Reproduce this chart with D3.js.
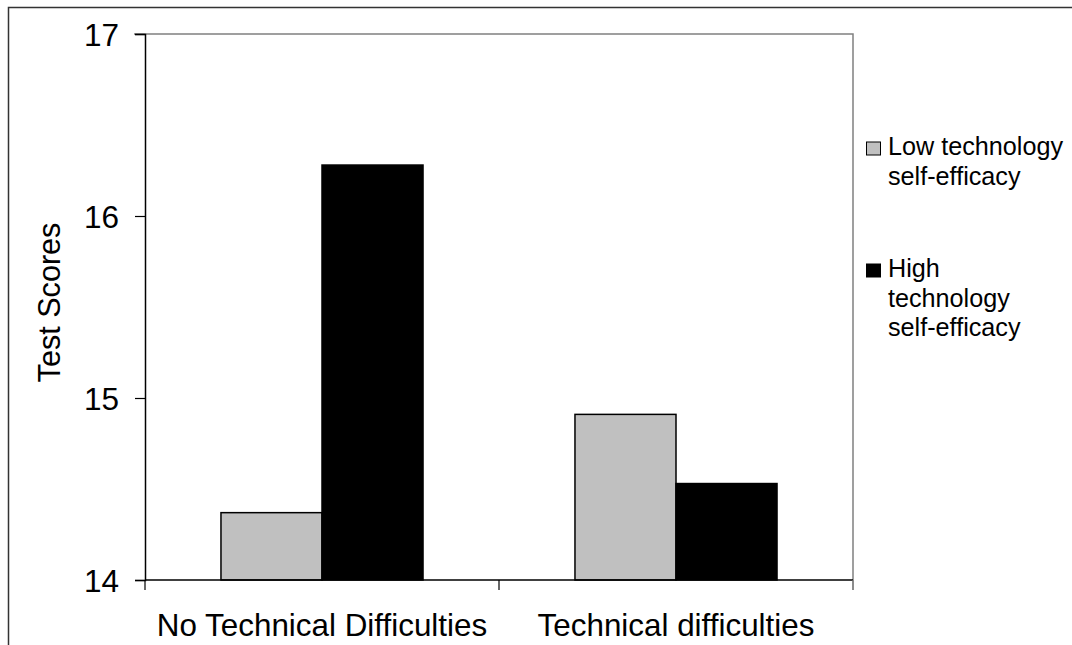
<!DOCTYPE html>
<html><head><meta charset="utf-8">
<script src="https://cdn.jsdelivr.net/npm/d3@7/dist/d3.min.js"></script>
<style>body{margin:0;background:#fff}svg{display:block}text{font-family:"Liberation Sans",Arial,sans-serif;fill:#000}</style>
</head><body><svg id="c" width="1072" height="645"></svg>
<script>
const categories = ["No Technical Difficulties", "Technical difficulties"];
const seriesNames = ["Low technology self-efficacy", "High technology self-efficacy"];
const lowValues = [14.37, 14.91];
const highValues = [16.28, 14.53];
const yTicks = [14, 15, 16, 17];
const legendLines = [["Low technology", "self-efficacy"], ["High", "technology", "self-efficacy"]];
const colors = ["#c0c0c0", "#000000"];

const svg = d3.select("#c");
const L = 145, T = 34, R = 853, B = 580;

svg.append("rect").attr("x", 8.5).attr("y", 7.5).attr("width", 1200).attr("height", 800)
  .attr("fill", "none").attr("stroke", "#333").attr("stroke-width", 1.5);

const x = d3.scaleBand().domain(categories).range([L, R]).paddingInner(0).paddingOuter(0);
const x1 = d3.scaleBand().domain(seriesNames).range([0, x.bandwidth()]).paddingInner(0).paddingOuter(0.752);
const y = d3.scaleLinear().domain([14, 17]).range([B, T]);

// plot border (top/right gray)
svg.append("path").attr("d", `M${L - 11},${T}H${R}V${B + 10}`).attr("fill", "none").attr("stroke", "#808080").attr("stroke-width", 1.5);

const data = categories.map((c, i) => ({ c, vals: [lowValues[i], highValues[i]] }));
const g = svg.append("g");
data.forEach(d => {
  d.vals.forEach((v, j) => {
    g.append("rect")
      .attr("x", x(d.c) + x1(seriesNames[j]))
      .attr("y", y(v))
      .attr("width", x1.bandwidth())
      .attr("height", B - y(v))
      .attr("fill", colors[j])
      .attr("stroke", "#000").attr("stroke-width", 1.5);
  });
});

// y axis
const yAxis = d3.axisLeft(y).tickValues(yTicks).tickFormat(d3.format("d")).tickSize(10).tickPadding(16);
const ya = svg.append("g").attr("transform", `translate(${L},0)`).call(yAxis);
ya.select(".domain").attr("stroke", "#000").attr("stroke-width", 1.5);
ya.selectAll(".tick line").attr("stroke", "#000").attr("stroke-width", 1.2);
ya.selectAll(".tick text").style("font-size", "31.5px").attr("dy", "0.36em");

// x axis line and ticks
svg.append("line").attr("x1", L).attr("x2", R).attr("y1", B).attr("y2", B).attr("stroke", "#000").attr("stroke-width", 1.5);
const bounds = [L, ...categories.map(c => x(c) + x.bandwidth())];
bounds.forEach((bx, i) => {
  svg.append("line").attr("x1", bx).attr("x2", bx).attr("y1", B).attr("y2", B + 10)
    .attr("stroke", i === bounds.length - 1 ? "#808080" : "#000").attr("stroke-width", 1.2);
});
categories.forEach(c => {
  svg.append("text").attr("x", x(c) + x.bandwidth() / 2).attr("y", 636)
    .attr("text-anchor", "middle").style("font-size", "31.4px").text(c);
});

// y title
svg.append("text").attr("transform", `translate(60,302.5) rotate(-90)`)
  .attr("text-anchor", "middle").style("font-size", "30.6px").text("Test Scores");

// legend
const legendTops = [155, 277];
legendLines.forEach((lines, i) => {
  svg.append("rect").attr("x", 866.5).attr("y", legendTops[i] - 13).attr("width", 14).attr("height", 13)
    .attr("fill", colors[i]).attr("stroke", "#000").attr("stroke-width", 1);
  lines.forEach((t, k) => {
    svg.append("text").attr("x", 888).attr("y", legendTops[i] + k * 29.5)
      .style("font-size", "25.2px").text(t);
  });
});
</script></body></html>
